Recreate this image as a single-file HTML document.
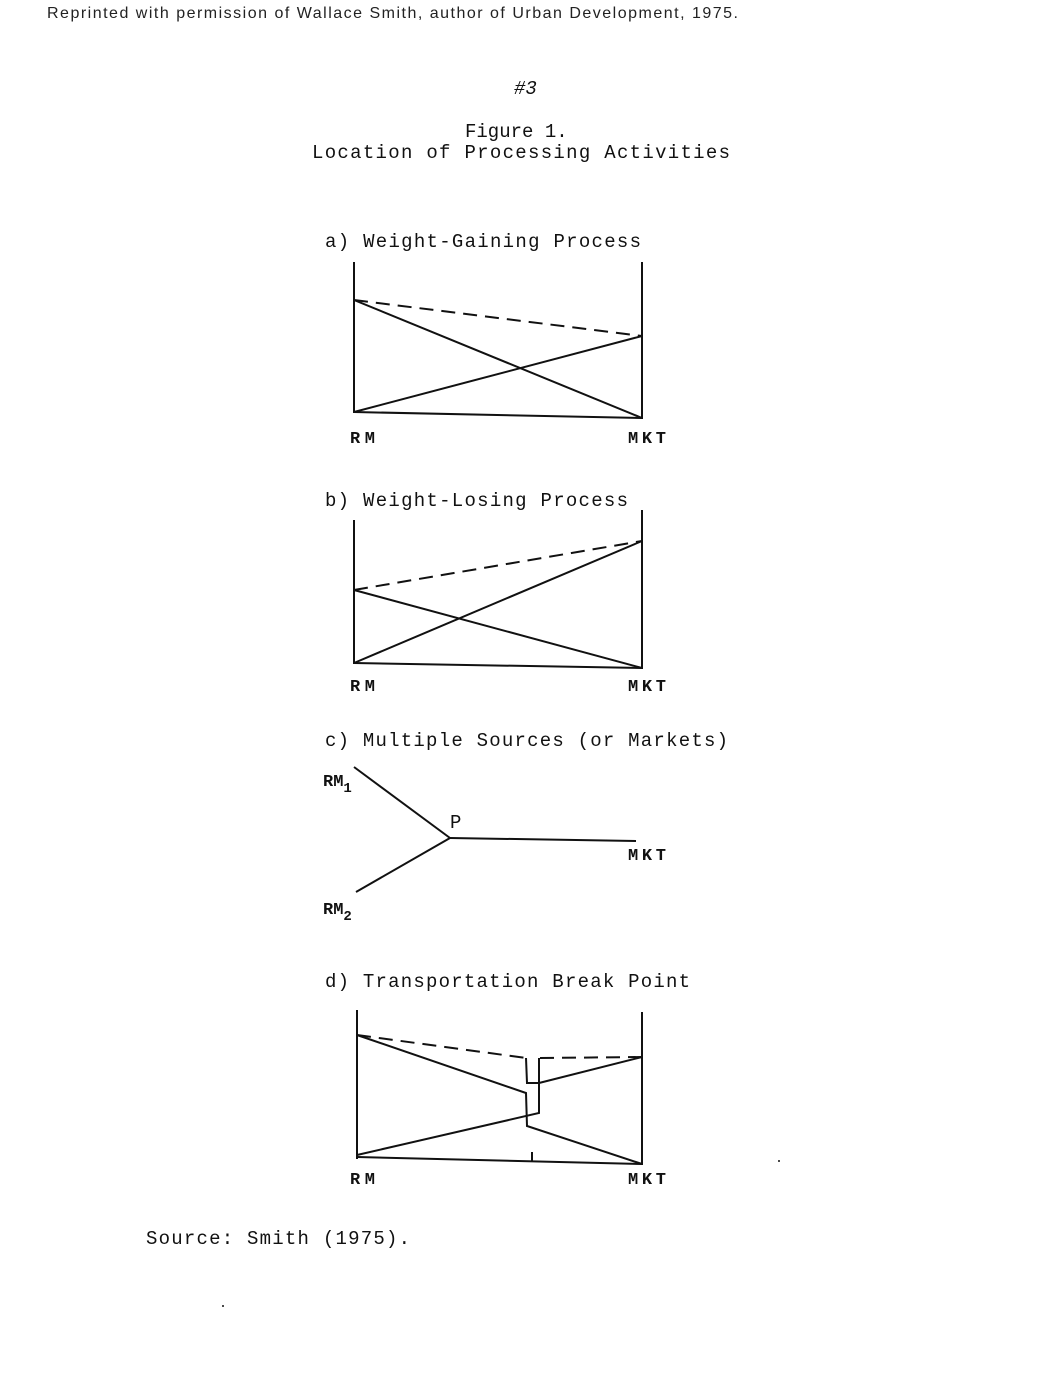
<!DOCTYPE html>
<html><head><style>
body{margin:0;background:#fff;}
svg{display:block}
.t{font-family:"Liberation Mono",monospace;font-size:19px;fill:#111}
.b{font-family:"Liberation Mono",monospace;font-size:17px;font-weight:bold;fill:#111}
</style></head><body>
<svg width="1039" height="1380" viewBox="0 0 1039 1380" xmlns="http://www.w3.org/2000/svg">
<text x="47" y="18" font-family="Liberation Sans,sans-serif" font-size="16" fill="#222" textLength="691">Reprinted with permission of Wallace Smith, author of Urban Development, 1975.</text>
<text x="514" y="94" class="t" font-style="italic">#3</text>
<text x="465" y="137" class="t">Figure 1.</text>
<text x="312" y="158" class="t" textLength="418">Location of Processing Activities</text>
<g stroke="#111" stroke-width="2" fill="none">
<line x1="354" y1="262" x2="354" y2="413"/><line x1="642" y1="262" x2="642" y2="419"/>
<line x1="354" y1="300" x2="642" y2="336" stroke-dasharray="14,8"/>
<line x1="354" y1="300" x2="642" y2="418"/><line x1="354" y1="412" x2="642" y2="336"/>
<line x1="354" y1="412" x2="642" y2="418"/>
<line x1="354" y1="520" x2="354" y2="664"/><line x1="642" y1="510" x2="642" y2="669"/>
<line x1="354" y1="590" x2="642" y2="541" stroke-dasharray="14,8"/>
<line x1="354" y1="590" x2="642" y2="668"/><line x1="354" y1="663" x2="642" y2="541"/>
<line x1="354" y1="663" x2="642" y2="668"/>
<line x1="354" y1="767" x2="450" y2="838"/><line x1="356" y1="892" x2="450" y2="838"/>
<line x1="450" y1="838" x2="636" y2="841"/>
<line x1="357" y1="1010" x2="357" y2="1159"/><line x1="642" y1="1012" x2="642" y2="1165"/>
<polyline points="357,1035 526,1058" stroke-dasharray="14,8"/>
<polyline points="526,1058 527,1083 539,1083 539,1058"/>
<line x1="540" y1="1058" x2="642" y2="1057" stroke-dasharray="14,8"/>
<line x1="539" y1="1083" x2="642" y2="1057"/>
<polyline points="357,1035 526,1093 527,1126 642,1164"/>
<polyline points="357,1155 539,1113 539,1083"/>
<line x1="357" y1="1157" x2="642" y2="1164"/>
<line x1="532" y1="1152" x2="532" y2="1162"/>
</g>
<text x="325" y="247" class="t" textLength="316">a) Weight-Gaining Process</text>
<text x="350" y="443" class="b" textLength="25">RM</text><text x="628" y="443" class="b" textLength="38">MKT</text>
<text x="325" y="506" class="t" textLength="303">b) Weight-Losing Process</text>
<text x="350" y="691" class="b" textLength="25">RM</text><text x="628" y="691" class="b" textLength="38">MKT</text>
<text x="325" y="746" class="t" textLength="403">c) Multiple Sources (or Markets)</text>
<text x="323" y="786" class="b">RM<tspan font-size="14" dy="6">1</tspan></text>
<text x="450" y="828" class="t">P</text>
<text x="628" y="860" class="b" textLength="38">MKT</text>
<text x="323" y="914" class="b">RM<tspan font-size="14" dy="6">2</tspan></text>
<text x="325" y="987" class="t" textLength="365">d) Transportation Break Point</text>
<text x="350" y="1184" class="b" textLength="25">RM</text><text x="628" y="1184" class="b" textLength="38">MKT</text>
<text x="146" y="1244" class="t" textLength="264">Source: Smith (1975).</text>
<circle cx="779" cy="1161" r="1" fill="#111"/><circle cx="223" cy="1306" r="1" fill="#111"/>
</svg>
</body></html>
